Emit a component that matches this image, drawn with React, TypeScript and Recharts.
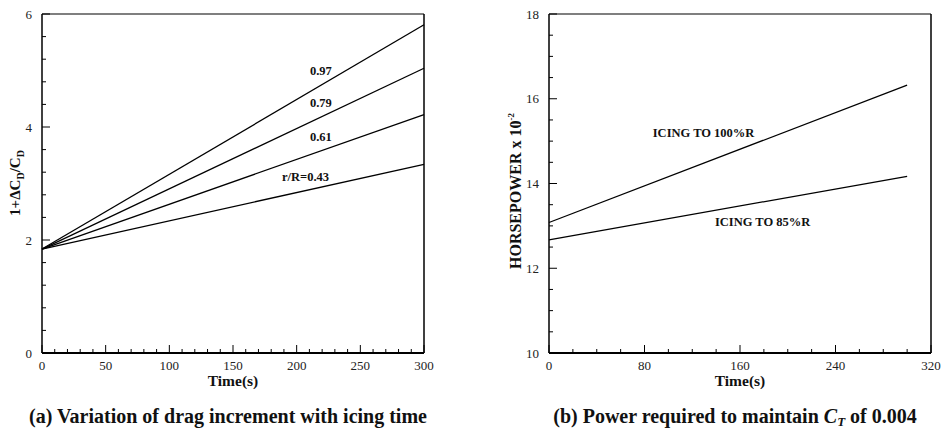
import React from 'react';
import { LineChart, Line, XAxis, YAxis, ReferenceLine, ReferenceDot } from 'recharts';

// ---------- data: panel (a) ----------
const timeA = [0, 300];
const dragR043 = [1.84, 3.34];
const dragR061 = [1.84, 4.22];
const dragR079 = [1.84, 5.04];
const dragR097 = [1.84, 5.81];

// ---------- data: panel (b) ----------
const timeB = [0, 300];
const powerIcing100 = [13.08, 16.32];
const powerIcing85 = [12.67, 14.17];

// ---------- ticks ----------
const xTicksA = [0, 10, 20, 30, 40, 50, 60, 70, 80, 90, 100, 110, 120, 130, 140, 150, 160, 170, 180, 190, 200, 210, 220, 230, 240, 250, 260, 270, 280, 290, 300];
const xMajorA = [0, 50, 100, 150, 200, 250, 300];
const yTicksA = [0, 0.4, 0.8, 1.2, 1.6, 2, 2.4, 2.8, 3.2, 3.6, 4, 4.4, 4.8, 5.2, 5.6, 6];
const yMajorA = [0, 2, 4, 6];
const xTicksB = [0, 20, 40, 60, 80, 100, 120, 140, 160, 180, 200, 220, 240, 260, 280, 300, 320];
const xMajorB = [0, 80, 160, 240, 320];
const yTicksB = [10, 10.5, 11, 11.5, 12, 12.5, 13, 13.5, 14, 14.5, 15, 15.5, 16, 16.5, 17, 17.5, 18];
const yMajorB = [10, 12, 14, 16, 18];

// ---------- labels ----------
const labelsA = [
  { text: '0.97', t: 219, v: 5.0 },
  { text: '0.79', t: 219, v: 4.43 },
  { text: '0.61', t: 219, v: 3.83 },
  { text: 'r/R=0.43', t: 207, v: 3.12 },
];
const labelsB = [
  { text: 'ICING TO 100%R', t: 129.5, v: 15.2 },
  { text: 'ICING TO 85%R', t: 179, v: 13.1 },
];

const FONT = "'Liberation Serif', 'Times New Roman', serif";

const dataA = timeA.map((t, i) => ({ t, r043: dragR043[i], r061: dragR061[i], r079: dragR079[i], r097: dragR097[i] }));
const dataB = timeB.map((t, i) => ({ t, p100: powerIcing100[i], p85: powerIcing85[i] }));

const isMajor = (v: number, majors: number[]) => majors.some((m) => Math.abs(m - v) < 1e-6);

const makeXTick = (majors: number[]) => (props: any) => {
  const { x, y, payload } = props;
  const major = isMajor(payload.value, majors);
  return (
    <g>
      <line x1={x} x2={x} y1={y} y2={y - (major ? 8 : 4)} stroke="#000" strokeWidth={1} />
      {major && (
        <text x={x} y={y + 12.5} textAnchor="middle" dominantBaseline="central" fontSize={13} fontFamily={FONT} fill="#222">
          {payload.value}
        </text>
      )}
    </g>
  );
};

const makeYTick = (majors: number[]) => (props: any) => {
  const { x, y, payload } = props;
  const major = isMajor(payload.value, majors);
  return (
    <g>
      <line x1={x} x2={x + (major ? 8 : 4)} y1={y} y2={y} stroke="#000" strokeWidth={1} />
      {major && (
        <text x={x - 10} y={y} textAnchor="end" dominantBaseline="central" fontSize={13} fontFamily={FONT} fill="#222">
          {payload.value}
        </text>
      )}
    </g>
  );
};

const lineProps = { type: 'linear' as const, stroke: '#000', strokeWidth: 1.3, dot: false, isAnimationActive: false };

const labelStyle = { fontSize: 12.5, fontWeight: 700, fill: '#111', fontFamily: FONT };

export default function App() {
  return (
    <div style={{ position: 'absolute', left: 0, top: 0, width: 942, height: 431, background: '#fff', fontFamily: FONT }}>
      {/* Panel (a) */}
      <div style={{ position: 'absolute', left: 0, top: 0 }}>
        <LineChart width={470} height={431} data={dataA} margin={{ top: 14, right: 46, left: 0, bottom: 48 }}>
          <XAxis
            dataKey="t"
            type="number"
            domain={[0, 300]}
            ticks={xTicksA}
            interval={0}
            tickSize={0}
            tickMargin={0}
            tickLine={false}
            tick={makeXTick(xMajorA)}
            axisLine={{ stroke: '#000', strokeWidth: 2 }}
            height={30}
            label={{
              content: () => (
                <text x={233} y={380} textAnchor="middle" dominantBaseline="central" fontSize={15.5} fontWeight={700} fontFamily={FONT} fill="#111">
                  Time(s)
                </text>
              ),
            }}
          />
          <YAxis
            type="number"
            domain={[0, 6]}
            ticks={yTicksA}
            interval={0}
            tickSize={0}
            tickMargin={0}
            tickLine={false}
            tick={makeYTick(yMajorA)}
            axisLine={{ stroke: '#000', strokeWidth: 1.5 }}
            width={42}
            label={{
              content: () => (
                <text x={20} y={183} transform="rotate(-90 20 183)" textAnchor="middle" fontSize={15} fontWeight={700} fontFamily={FONT} fill="#111">
                  1+ΔC
                  <tspan dy={4} fontSize={10}>D</tspan>
                  <tspan dy={-4}>/C</tspan>
                  <tspan dy={4} fontSize={10}>D</tspan>
                </text>
              ),
            }}
          />
          <ReferenceLine y={6} stroke="#000" strokeWidth={1.2} />
          <ReferenceLine x={300} stroke="#000" strokeWidth={1.5} />
          <Line dataKey="r043" {...lineProps} />
          <Line dataKey="r061" {...lineProps} />
          <Line dataKey="r079" {...lineProps} />
          <Line dataKey="r097" {...lineProps} />
          {labelsA.map((l) => (
            <ReferenceDot key={l.text} x={l.t} y={l.v} r={0} fill="none" stroke="none" label={{ value: l.text, position: 'center', ...labelStyle }} />
          ))}
        </LineChart>
      </div>

      {/* Panel (b) */}
      <div style={{ position: 'absolute', left: 470, top: 0 }}>
        <LineChart width={472} height={431} data={dataB} margin={{ top: 14, right: 11, left: 0, bottom: 48 }}>
          <XAxis
            dataKey="t"
            type="number"
            domain={[0, 320]}
            ticks={xTicksB}
            interval={0}
            tickSize={0}
            tickMargin={0}
            tickLine={false}
            tick={makeXTick(xMajorB)}
            axisLine={{ stroke: '#000', strokeWidth: 2 }}
            height={30}
            label={{
              content: () => (
                <text x={270} y={380} textAnchor="middle" dominantBaseline="central" fontSize={15.5} fontWeight={700} fontFamily={FONT} fill="#111">
                  Time(s)
                </text>
              ),
            }}
          />
          <YAxis
            type="number"
            domain={[10, 18]}
            ticks={yTicksB}
            interval={0}
            tickSize={0}
            tickMargin={0}
            tickLine={false}
            tick={makeYTick(yMajorB)}
            axisLine={{ stroke: '#000', strokeWidth: 1.5 }}
            width={79}
            label={{
              content: () => (
                <text x={51} y={191} transform="rotate(-90 51 191)" textAnchor="middle" fontSize={16} fontWeight={700} fontFamily={FONT} fill="#111">
                  HORSEPOWER x 10
                  <tspan dy={-7} fontSize={9}>-2</tspan>
                </text>
              ),
            }}
          />
          <ReferenceLine y={18} stroke="#000" strokeWidth={1.2} />
          <ReferenceLine x={320} stroke="#000" strokeWidth={1.5} />
          <Line dataKey="p100" {...lineProps} />
          <Line dataKey="p85" {...lineProps} />
          {labelsB.map((l) => (
            <ReferenceDot key={l.text} x={l.t} y={l.v} r={0} fill="none" stroke="none" label={{ value: l.text, position: 'center', ...labelStyle }} />
          ))}
        </LineChart>
      </div>

      {/* Captions */}
      <div style={{ position: 'absolute', left: 0, top: 405, width: 456, textAlign: 'center', fontSize: 20, fontWeight: 700, lineHeight: '22px', color: '#111', whiteSpace: 'nowrap' }}>
        (a) Variation of drag increment with icing time
      </div>
      <div style={{ position: 'absolute', left: 535, top: 405, width: 400, textAlign: 'center', fontSize: 20, fontWeight: 700, lineHeight: '22px', color: '#111', whiteSpace: 'nowrap' }}>
        (b) Power required to maintain{' '}
        <span style={{ fontStyle: 'italic' }}>
          C<sub style={{ fontSize: 13, verticalAlign: '-3px', lineHeight: 0 }}>T</sub>
        </span>{' '}
        of 0.004
      </div>
    </div>
  );
}
